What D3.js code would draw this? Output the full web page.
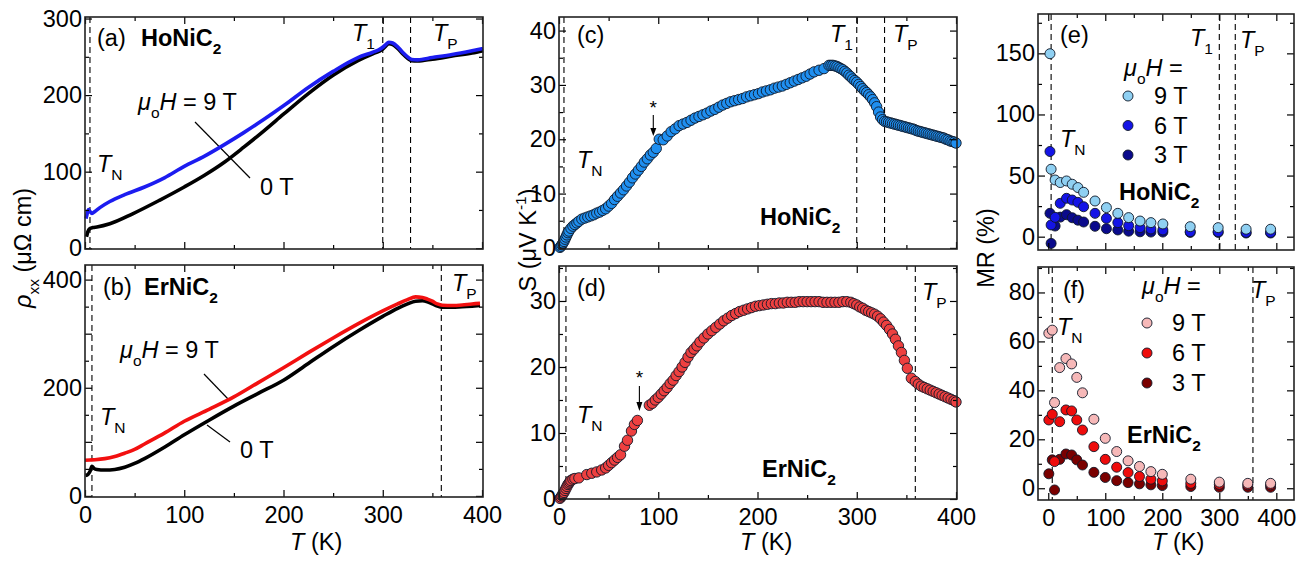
<!DOCTYPE html>
<html>
<head>
<meta charset="utf-8">
<script src="https://cdn.jsdelivr.net/npm/d3@7"></script>
<style>
  body { margin: 0; background: #fff; }
  text { font-family: "Liberation Sans", Arial, sans-serif; }
</style>
</head>
<body>
<script>
// ---------- data ----------
// (a) HoNiC2 resistivity
const hoRho9T_T = [1, 2, 3.5, 5, 7, 10, 15, 25, 40, 60, 80, 100, 120, 140, 160, 180, 200, 225, 250, 275, 290, 296, 300, 303, 306, 310, 315, 320, 325, 329, 335, 350, 370, 390, 401];
const hoRho9T   = [38.7, 44, 50.5, 48, 45.5, 48, 53, 61, 70, 80, 92, 107, 120, 135, 151, 168, 186, 210, 231, 249, 256, 259, 262.5, 266, 269, 268, 263, 256, 250, 246.6, 246, 249, 253, 258, 261];
const hoRho0T_T = [1.5, 3, 5, 8, 12, 25, 48, 75, 100, 120, 140, 160, 180, 200, 225, 250, 275, 290, 296, 300, 303, 306, 310, 315, 320, 325, 329, 335, 350, 370, 390, 401];
const hoRho0T   = [15, 22, 25.7, 27, 27.8, 32, 45, 62.6, 80, 95, 112, 132, 153, 175, 202, 226, 245, 254, 257, 260, 264, 267, 266, 261, 254, 248, 245, 244.5, 247, 251, 255, 258];

// (b) ErNiC2 resistivity
const erRho9T_T = [0, 5, 10, 20, 30, 40, 50, 60, 80, 100, 125, 150, 175, 200, 225, 250, 275, 300, 315, 325, 333, 340, 345, 350, 355, 360, 370, 380, 390, 398];
const erRho9T   = [66, 66.5, 67, 69, 73, 79, 86, 96, 116, 138, 160, 183, 210, 237, 265, 292, 318, 342, 355, 363, 368, 367, 364, 360, 355, 352.5, 352, 353, 355, 356];
const erRho0T_T = [0.5, 3, 5, 7, 9, 12, 20, 30, 40, 50, 60, 80, 100, 125, 150, 175, 200, 225, 250, 275, 300, 315, 325, 333, 340, 345, 350, 355, 360, 370, 380, 390, 398];
const erRho0T   = [38, 40, 45, 55, 51, 49, 48, 49, 53, 60, 69, 90, 113, 140, 166, 190, 214, 245, 276, 305, 332, 347, 355, 360, 361, 359, 355, 351, 349, 349, 350, 351, 352];

// (c) HoNiC2 thermopower
const hoS_T = [1, 2, 3, 4, 5, 6, 7, 8, 9, 10, 12, 14, 16, 18, 20,
  23, 26, 29, 32, 35, 38, 41, 44, 47, 50, 53, 56, 59, 62, 65, 68, 71, 74, 77, 80, 83, 86, 89, 92, 95, 98,
  101, 105, 109, 113, 117, 121, 125, 129, 133, 137, 141, 145, 149, 153, 157, 161, 165, 169, 173, 177, 181, 185, 189, 193, 197,
  201, 205, 209, 213, 217, 221, 225, 229, 233, 237, 241, 245, 249, 253, 257, 262, 267, 272,
  274, 276, 278, 280, 282, 284, 286, 288, 290, 292, 294, 296, 298, 300, 302, 304, 306, 308, 310, 312, 314, 316, 318, 320,
  322, 324, 326, 328, 330, 332, 334, 336, 338, 340, 342, 344, 346, 348, 350, 352, 354, 356, 358, 360, 362, 364, 366, 368,
  370, 372, 374, 376, 378, 380, 382, 384, 386, 388, 390, 392, 394, 396, 398, 400];
const hoS = [0.1, 0.3, 0.6, 0.9, 1.2, 1.6, 2.0, 2.4, 2.8, 3.1, 3.6, 4.0, 4.3, 4.6, 4.9,
  5.3, 5.5, 5.7, 5.9, 6.1, 6.4, 6.6, 6.9, 7.2, 7.7, 8.2, 8.9, 9.5, 10.1, 10.7, 11.4, 12.1, 12.9, 13.6, 14.3, 15.0, 15.8, 16.4, 17.1, 17.6, 18.3,
  20.0, 19.9, 20.6, 21.4, 21.9, 22.5, 22.8, 23.1, 23.5, 23.9, 24.2, 24.5, 24.8, 25.2, 25.5, 25.9, 26.3, 26.6, 26.9, 27.1, 27.3, 27.5, 27.8, 28.0, 28.2,
  28.4, 28.7, 28.9, 29.1, 29.4, 29.6, 29.8, 30.1, 30.4, 30.7, 31.0, 31.3, 31.6, 32.0, 32.4, 32.7, 33.0, 33.6,
  33.6, 33.6, 33.5, 33.4, 33.2, 33.0, 32.8, 32.5, 32.2, 31.8, 31.5, 31.1, 30.8, 30.5, 30.1, 29.7, 29.3, 28.9, 28.6, 28.2, 27.8, 27.3, 26.7, 26.0,
  25.0, 24.1, 23.6, 23.3, 23.2, 23.1, 23.0, 22.9, 22.8, 22.7, 22.6, 22.5, 22.4, 22.3, 22.2, 22.1, 22.0, 21.9, 21.8, 21.6, 21.5, 21.4, 21.3, 21.2,
  21.1, 21.0, 20.9, 20.8, 20.7, 20.6, 20.5, 20.4, 20.3, 20.2, 20.0, 19.9, 19.7, 19.6, 19.5, 19.3];

// (d) ErNiC2 thermopower
const erS_T = [1, 2, 3, 4, 5, 6, 7, 8, 9, 10, 11, 12, 14, 16, 20, 28, 33, 38, 43, 47, 50, 53, 56, 59, 62, 66, 69, 73, 76, 79,
  91, 94, 97, 100, 103, 106, 109, 112, 115, 118, 121, 124, 127, 130, 133, 136, 139, 142, 146, 150, 154, 158, 162, 166, 170, 174, 178, 182, 186, 190, 194, 198,
  202, 206, 210, 214, 218, 222, 226, 230, 234, 238, 242, 246, 250, 254, 258, 262, 266, 270, 274, 278, 282, 286, 290, 294, 297,
  300, 303, 306, 309, 312, 315, 318, 321, 324, 327, 330, 333, 336, 339, 342, 345, 348, 351, 355, 359, 362, 365, 368, 371, 374, 377, 380, 383, 386, 389, 392, 395, 398, 400];
const erS = [0.1, 0.3, 0.5, 0.8, 1.0, 1.3, 1.6, 1.9, 2.2, 2.4, 2.6, 2.8, 3.0, 3.1, 3.2, 3.7, 3.9, 4.1, 4.4, 4.7, 5.1, 5.5, 5.9, 6.3, 6.7, 8.0, 8.9, 10.3, 11.3, 11.9,
  14.2, 14.5, 15.0, 15.4, 15.9, 16.4, 16.9, 17.5, 18.0, 18.7, 19.3, 20.0, 20.7, 21.5, 22.2, 22.7, 23.2, 23.8, 24.4, 25.0, 25.5, 26.0, 26.5, 27.0, 27.4, 27.8, 28.1, 28.4, 28.6, 28.8, 29.0, 29.2,
  29.3, 29.4, 29.5, 29.6, 29.6, 29.7, 29.7, 29.8, 29.8, 29.8, 29.9, 29.9, 29.9, 29.9, 29.9, 29.9, 29.8, 29.8, 29.8, 29.8, 29.8, 29.9, 29.9, 29.8, 29.6,
  29.4, 29.1, 28.9, 28.6, 28.4, 28.2, 28.0, 27.7, 27.3, 26.8, 26.3, 25.7, 25.0, 24.2, 23.2, 22.2, 21.0, 19.8, 18.3, 17.8, 17.4, 17.1, 16.9, 16.7, 16.5, 16.3, 16.1, 15.9, 15.7, 15.5, 15.3, 15.1, 14.9, 14.7];

// (e) HoNiC2 magnetoresistance
const hoMR_T = [3, 5, 12, 21, 32, 42, 52, 62, 82, 102, 122, 141, 161, 180, 201, 249, 298, 347, 390];
const hoMR9T = [149.7, 55.2, 46.4, 44.3, 45.6, 42.9, 40.2, 36.3, 29.2, 23.8, 19.1, 15.6, 12.8, 11.5, 10.4, 8.2, 7.4, 6.1, 6.1];
const hoMR6T = [69.7, 9.6, 15.8, 27.3, 31.4, 30.0, 28.1, 24.5, 19.1, 15.0, 11.5, 9.0, 7.4, 6.3, 5.5, 4.1, 4.1, 3.5, 3.5];
const hoMR3T = [19.1, -5.5, 8.7, 16.0, 18.0, 15.5, 13.5, 12.0, 8.5, 6.5, 5.5, 4.5, 4.0, 3.8, 3.8, 3.5, 3.5, 3.0, 3.0];

// (f) ErNiC2 magnetoresistance
const erMR_T = [1, 7, 11, 20, 31, 41, 50, 60, 80, 100, 120, 140, 160, 180, 200, 250, 300, 350, 390];
const erMR9T = [63.3, 64.6, 35.0, 49.3, 53.0, 50.8, 45.3, 39.0, 28.2, 20.4, 15.0, 11.2, 8.9, 6.8, 5.7, 3.7, 2.5, 2.0, 2.0];
const erMR6T = [27.9, 30.2, 10.9, 27.2, 32.0, 31.6, 27.9, 23.8, 17.0, 11.8, 8.6, 6.4, 4.8, 3.7, 3.0, 2.0, 1.6, 1.4, 1.4];
const erMR3T = [5.9, 11.6, -0.7, 11.8, 14.0, 13.6, 11.6, 9.5, 6.5, 4.4, 3.1, 2.3, 1.8, 1.4, 1.1, 0.7, 0.4, 0.4, 0.4];

const fieldLabels = ["9 T", "6 T", "3 T"];

// transition temperatures (K)
const ho_TN = 5, ho_T1 = 300, ho_TP = 328;
const er_TN = 7, er_TP = 359;

// ---------- drawing ----------
const svg = d3.select("body").append("svg")
  .attr("width", 1312)
  .attr("height", 561);

const FS = 23.5;

// text with italics / sub / superscripts
function rich(g, x, y, parts, o = {}) {
  const fs = o.fs || FS;
  const t = g.append("text")
    .attr("x", x).attr("y", y)
    .attr("font-size", fs)
    .attr("text-anchor", o.anchor || "start");
  if (o.transform) t.attr("transform", o.transform);
  if (o.bold) t.attr("font-weight", "bold");
  let shift = 0;
  parts.forEach(p => {
    if (typeof p === "string") p = { t: p };
    const target = p.sub ? 0.32 * fs : p.sup ? -0.42 * fs : 0;
    const s = t.append("tspan").text(p.t).attr("dy", target - shift);
    shift = target;
    if (p.sub || p.sup) s.attr("font-size", fs * 0.66);
    if (p.i) s.attr("font-style", "italic");
  });
  return t;
}

function addAxes(g, x, y, o) {
  const [x0, x1] = x.range(), [y0, y1] = y.range();
  const fmtX = d => o.xLab && o.xLab.includes(d) ? d : "";
  const fmtY = d => o.yLab.includes(d) ? d : "";
  const set = (ax, vals, len, fmt, pad) => ax.tickValues(vals).tickSizeInner(-len).tickSizeOuter(0)
    .tickPadding(pad).tickFormat(fmt || (() => ""));

  const axes = [
    [d3.axisBottom(x), `translate(0,${y0})`, o.xMajor, 7, fmtX, 9],
    [d3.axisBottom(x), `translate(0,${y0})`, o.xMinor, 4, null, 9],
    [d3.axisTop(x), `translate(0,${y1})`, o.xMajor, 7, null, 9],
    [d3.axisTop(x), `translate(0,${y1})`, o.xMinor, 4, null, 9],
    [d3.axisLeft(y), `translate(${x0},0)`, o.yMajor, 7, fmtY, 3],
    [d3.axisLeft(y), `translate(${x0},0)`, o.yMinor, 4, null, 3],
    [d3.axisRight(y), `translate(${x1},0)`, o.yMajor, 7, null, 4],
    [d3.axisRight(y), `translate(${x1},0)`, o.yMinor, 4, null, 4]
  ];
  axes.forEach(([ax, tr, vals, len, fmt, pad]) => {
    const a = g.append("g").attr("transform", tr).call(set(ax, vals, len, fmt, pad));
    a.select(".domain").remove();
    a.selectAll("line").attr("stroke", "#000").attr("stroke-width", 1.2);
    a.selectAll("text").attr("font-size", FS).attr("fill", "#000")
      .attr("font-family", "'Liberation Sans', Arial, sans-serif");
  });
  g.append("rect")
    .attr("x", x0).attr("y", y1)
    .attr("width", x1 - x0).attr("height", y0 - y1)
    .attr("fill", "none").attr("stroke", "#222").attr("stroke-width", 1.6);
}

function vdash(g, x, y, T) {
  g.append("line")
    .attr("x1", x(T)).attr("x2", x(T))
    .attr("y1", y.range()[1]).attr("y2", y.range()[0])
    .attr("stroke", "#000").attr("stroke-width", 1.1)
    .attr("stroke-dasharray", "6,4");
}

function curve(g, x, y, Ts, vals, color) {
  const pts = Ts.map((t, i) => [t, vals[i]]);
  g.append("path")
    .datum(pts)
    .attr("fill", "none")
    .attr("stroke", color)
    .attr("stroke-width", 3.6)
    .attr("stroke-linejoin", "round")
    .attr("d", d3.line().x(d => x(d[0])).y(d => y(d[1])).curve(d3.curveMonotoneX));
}

function dots(g, x, y, Ts, vals, fill, r) {
  g.selectAll(null)
    .data(Ts.map((t, i) => [t, vals[i]]))
    .enter().append("circle")
    .attr("cx", d => x(d[0]))
    .attr("cy", d => y(d[1]))
    .attr("r", r)
    .attr("fill", fill)
    .attr("stroke", "#101828")
    .attr("stroke-width", 0.9);
}

const TK = (g, x) => rich(g, x, 550, [{ t: "T", i: true }, " (K)"]);
const TN = [{ t: "T", i: true }, { t: "N", sub: true }];
const TP = [{ t: "T", i: true }, { t: "P", sub: true }];
const T1 = [{ t: "T", i: true }, { t: "1", sub: true }];
const muH = [{ t: "μ", i: true }, { t: "o", sub: true }, { t: "H", i: true }, " ="];

// ===== (a) =====
{
  const g = svg.append("g");
  const x = d3.scaleLinear().domain([0, 401]).range([85, 483]);
  const y = d3.scaleLinear().domain([-1, 302]).range([249, 17]);
  [ho_TN, ho_T1, ho_TP].forEach(t => vdash(g, x, y, t));
  g.append("line").attr("x1", 195).attr("y1", 122).attr("x2", 250).attr("y2", 178)
    .attr("stroke", "#000").attr("stroke-width", 1.2);
  curve(g, x, y, hoRho0T_T, hoRho0T, "#000");
  curve(g, x, y, hoRho9T_T, hoRho9T, "#1c1cf0");
  addAxes(g, x, y, {
    xMajor: [0, 100, 200, 300, 400], xMinor: [50, 150, 250, 350],
    yMajor: [0, 100, 200, 300], yMinor: [50, 150, 250], yLab: [0, 100, 200, 300]
  });
  rich(g, 97, 46, ["(a)"]);
  rich(g, 141, 46, ["HoNiC", { t: "2", sub: true }], { bold: true });
  rich(g, 138, 110, [{ t: "μ", i: true }, { t: "o", sub: true }, { t: "H", i: true }, " = 9 T"]);
  rich(g, 260, 195, ["0 T"]);
  rich(g, 97, 172, TN);
  rich(g, 352, 41, T1);
  rich(g, 433, 41, TP);
}

// ===== (b) =====
{
  const g = svg.append("g");
  const x = d3.scaleLinear().domain([0, 401]).range([85, 483]);
  const y = d3.scaleLinear().domain([-2, 427]).range([497, 265]);
  [er_TN, er_TP].forEach(t => vdash(g, x, y, t));
  g.append("line").attr("x1", 204).attr("y1", 374).attr("x2", 229).attr("y2", 400)
    .attr("stroke", "#000").attr("stroke-width", 1.2);
  g.append("line").attr("x1", 207).attr("y1", 425).attr("x2", 230).attr("y2", 442)
    .attr("stroke", "#000").attr("stroke-width", 1.2);
  curve(g, x, y, erRho0T_T, erRho0T, "#000");
  curve(g, x, y, erRho9T_T, erRho9T, "#f21010");
  addAxes(g, x, y, {
    xMajor: [0, 100, 200, 300, 400], xMinor: [50, 150, 250, 350], xLab: [0, 100, 200, 300, 400],
    yMajor: [0, 100, 200, 300, 400], yMinor: [50, 150, 250, 350], yLab: [0, 200, 400]
  });
  rich(g, 103, 295, ["(b)"]);
  rich(g, 144, 295, ["ErNiC", { t: "2", sub: true }], { bold: true });
  rich(g, 120, 358, [{ t: "μ", i: true }, { t: "o", sub: true }, { t: "H", i: true }, " = 9 T"]);
  rich(g, 240, 458, ["0 T"]);
  rich(g, 100, 425, TN);
  rich(g, 452, 291, TP);
  TK(g, 290);
}

// shared y label for (a),(b)
rich(svg, 0, 0, [{ t: "ρ", i: true }, { t: "xx", sub: true }, " (μΩ cm)"],
  { anchor: "middle", transform: "translate(31,248) rotate(-90)" });

// ===== (c) =====
{
  const g = svg.append("g");
  const x = d3.scaleLinear().domain([0, 401]).range([559, 957]);
  const y = d3.scaleLinear().domain([-0.2, 42.5]).range([249, 17]);
  [ho_TN, ho_T1, ho_TP].forEach(t => vdash(g, x, y, t));
  dots(g, x, y, hoS_T, hoS, "#1f8ff0", 5.2);
  addAxes(g, x, y, {
    xMajor: [0, 100, 200, 300, 400], xMinor: [50, 150, 250, 350],
    yMajor: [0, 10, 20, 30, 40], yMinor: [5, 15, 25, 35], yLab: [0, 10, 20, 30, 40]
  });
  // marker above the kink
  g.append("text").attr("x", x(95)).attr("y", 114).attr("text-anchor", "middle")
    .attr("font-size", 19).text("*");
  g.append("line").attr("x1", x(95)).attr("x2", x(95)).attr("y1", 115).attr("y2", 130)
    .attr("stroke", "#000").attr("stroke-width", 1.1);
  g.append("path").attr("d", `M${x(95) - 3},128 L${x(95) + 3},128 L${x(95)},136 Z`).attr("fill", "#000");
  rich(g, 577, 43, ["(c)"]);
  rich(g, 760, 225, ["HoNiC", { t: "2", sub: true }], { bold: true });
  rich(g, 577, 168, TN);
  rich(g, 830, 42, T1);
  rich(g, 893, 42, TP);
}

// ===== (d) =====
{
  const g = svg.append("g");
  const x = d3.scaleLinear().domain([0, 401]).range([559, 957]);
  const y = d3.scaleLinear().domain([0, 35.3]).range([499, 266]);
  [er_TN, er_TP].forEach(t => vdash(g, x, y, t));
  dots(g, x, y, erS_T, erS, "#ee4040", 5.2);
  addAxes(g, x, y, {
    xMajor: [0, 100, 200, 300, 400], xMinor: [50, 150, 250, 350], xLab: [0, 100, 200, 300, 400],
    yMajor: [0, 10, 20, 30], yMinor: [5, 15, 25, 35], yLab: [0, 10, 20, 30]
  });
  g.append("text").attr("x", x(81)).attr("y", 384).attr("text-anchor", "middle")
    .attr("font-size", 19).text("*");
  g.append("line").attr("x1", x(81)).attr("x2", x(81)).attr("y1", 386).attr("y2", 404)
    .attr("stroke", "#000").attr("stroke-width", 1.1);
  g.append("path").attr("d", `M${x(81) - 3},402 L${x(81) + 3},402 L${x(81)},411 Z`).attr("fill", "#000");
  rich(g, 577, 296, ["(d)"]);
  rich(g, 762, 477, ["ErNiC", { t: "2", sub: true }], { bold: true });
  rich(g, 577, 423, TN);
  rich(g, 922, 300, TP);
  TK(g, 740);
}

rich(svg, 0, 0, ["S (μV K", { t: "-1", sup: true }, ")"],
  { anchor: "middle", transform: "translate(536,240) rotate(-90)" });

// ===== (e) =====
const blues = ["#8fd0f2", "#1414e6", "#0a0a8c"];
const reds = ["#f6b8b8", "#ee0c0c", "#7a0000"];
{
  const g = svg.append("g");
  const x = d3.scaleLinear().domain([-18, 431]).range([1038, 1294]);
  const y = d3.scaleLinear().domain([-10.9, 182.2]).range([250, 14]);
  [ho_TN, ho_T1, ho_TP].forEach(t => vdash(g, x, y, t));
  [hoMR3T, hoMR6T, hoMR9T].forEach((s, i) => dots(g, x, y, hoMR_T, s, blues[2 - i], 5));
  addAxes(g, x, y, {
    xMajor: [0, 100, 200, 300, 400], xMinor: [50, 150, 250, 350],
    yMajor: [0, 50, 100, 150], yMinor: [25, 75, 125, 175], yLab: [0, 50, 100, 150]
  });
  rich(g, 1060, 43, ["(e)"]);
  rich(g, 1190, 46, T1);
  rich(g, 1240, 48, TP);
  rich(g, 1060, 147, TN);
  rich(g, 1124, 76, muH);
  fieldLabels.forEach((f, i) => {
    const cy = 96 + i * 29.5;
    g.append("circle").attr("cx", 1128).attr("cy", cy).attr("r", 5)
      .attr("fill", blues[i]).attr("stroke", "#101828").attr("stroke-width", 0.9);
    rich(g, 1154, cy + 8, [f]);
  });
  rich(g, 1119, 200, ["HoNiC", { t: "2", sub: true }], { bold: true });
}

// ===== (f) =====
{
  const g = svg.append("g");
  const x = d3.scaleLinear().domain([-18, 431]).range([1038, 1294]);
  const y = d3.scaleLinear().domain([-4.8, 90.4]).range([500, 267]);
  [er_TN, er_TP].forEach(t => vdash(g, x, y, t));
  [erMR3T, erMR6T, erMR9T].forEach((s, i) => dots(g, x, y, erMR_T, s, reds[2 - i], 5));
  addAxes(g, x, y, {
    xMajor: [0, 100, 200, 300, 400], xMinor: [50, 150, 250, 350], xLab: [0, 100, 200, 300, 400],
    yMajor: [0, 20, 40, 60, 80], yMinor: [10, 30, 50, 70, 90], yLab: [0, 20, 40, 60, 80]
  });
  rich(g, 1063, 298, ["(f)"]);
  rich(g, 1057, 335, TN);
  rich(g, 1251, 298, TP);
  rich(g, 1142, 294, muH);
  fieldLabels.forEach((f, i) => {
    const cy = 323 + i * 30;
    g.append("circle").attr("cx", 1147).attr("cy", cy).attr("r", 5)
      .attr("fill", reds[i]).attr("stroke", "#101828").attr("stroke-width", 0.9);
    rich(g, 1172, cy + 8, [f]);
  });
  rich(g, 1127, 443, ["ErNiC", { t: "2", sub: true }], { bold: true });
  TK(g, 1152);
}

rich(svg, 0, 0, ["MR (%)"], { anchor: "middle", transform: "translate(994,248) rotate(-90)" });
</script>
</body>
</html>
